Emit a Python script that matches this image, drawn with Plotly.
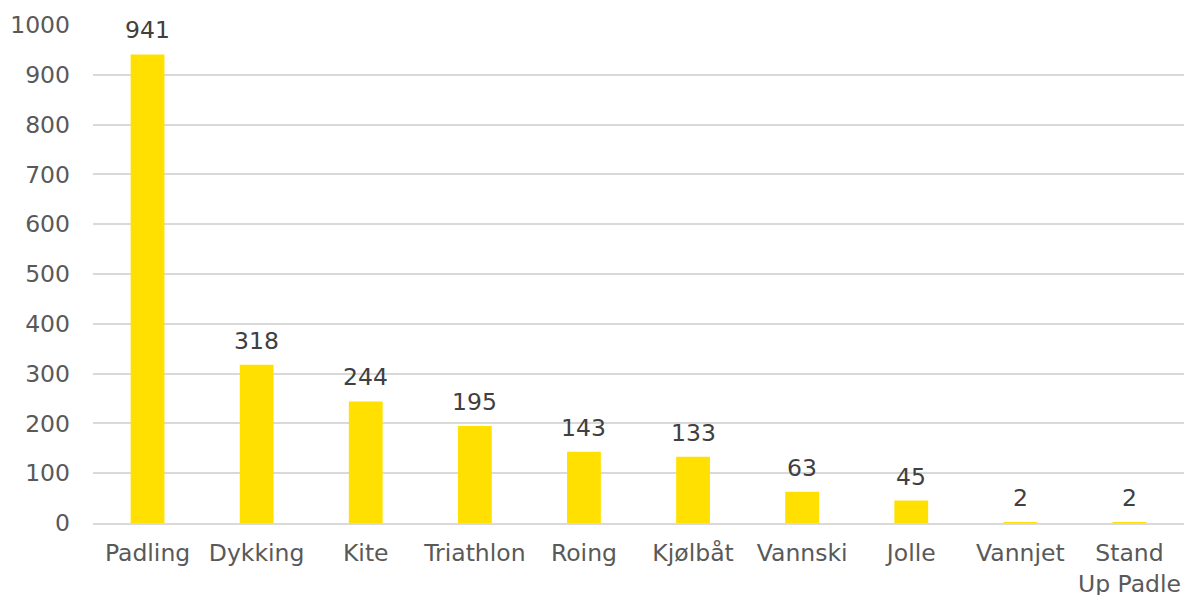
import plotly.graph_objects as go

categories = ["Padling", "Dykking", "Kite", "Triathlon", "Roing", "Kjølbåt", "Vannski", "Jolle", "Vannjet", "Stand<br>Up Padle"]
values = [941, 318, 244, 195, 143, 133, 63, 45, 2, 2]
y_ticks = [0, 100, 200, 300, 400, 500, 600, 700, 800, 900, 1000]

FONT = "DejaVu Sans"
fig = go.Figure(go.Bar(
    x=categories, y=values,
    marker=dict(color="#FFE000", line=dict(width=0)),
    cliponaxis=False, hoverinfo="skip",
))
for c, v in zip(categories, values):
    fig.add_annotation(x=c, y=v, text=str(v), showarrow=False, yanchor="bottom", yshift=8,
                       font=dict(family=FONT, size=23.5, color="#404040"))
fig.update_layout(
    width=1184, height=595,
    margin=dict(l=93, r=0, t=25, b=72),
    paper_bgcolor="white", plot_bgcolor="white",
    bargap=0.69, showlegend=False,
    font=dict(family=FONT, size=23.5, color="#595959"),
)
fig.update_yaxes(range=[0, 1000], tickvals=y_ticks, showgrid=True, gridcolor="#d9d9d9", gridwidth=1.5,
                 zeroline=False, showline=False, ticks="", ticklabelstandoff=22, automargin=False,
                 tickfont=dict(family=FONT, size=23.5, color="#595959"))
fig.update_xaxes(showline=True, linecolor="#d9d9d9", linewidth=1.5, ticks="", automargin=False,
                 ticklabelstandoff=8, tickfont=dict(family=FONT, size=23.5, color="#595959"))
fig.write_html("out.html", config={"displayModeBar": False},
               post_script="document.body.style.margin='0';document.body.style.overflow='hidden';")
